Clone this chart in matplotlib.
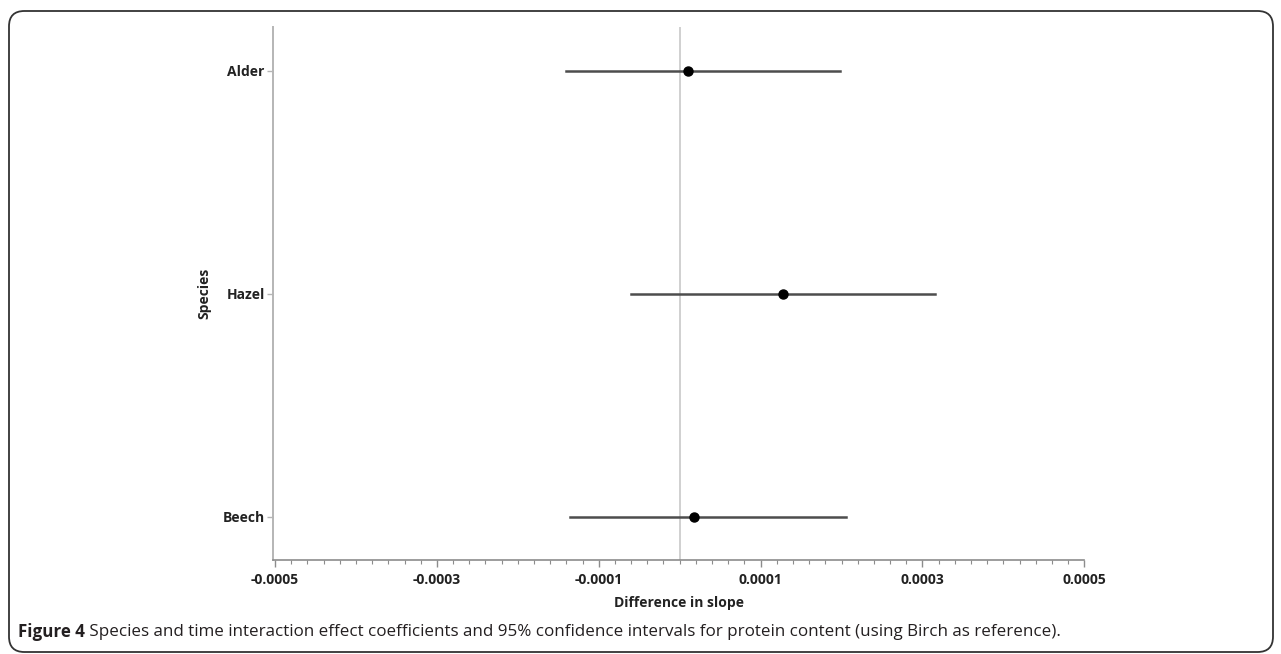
import matplotlib.pyplot as plt
from matplotlib.patches import FancyBboxPatch
from matplotlib.ticker import MultipleLocator, FixedLocator

species = ['Alder', 'Hazel', 'Beech']
estimate = [0.0000104, 0.0001278, 0.0000173]
ci_low = [-0.000141, -0.0000597, -0.000135]
ci_high = [0.0001986, 0.000316, 0.000206]
xticks = [-0.0005, -0.0003, -0.0001, 0.0001, 0.0003, 0.0005]
xtick_labels = ['-0.0005', '-0.0003', '-0.0001', '0.0001', '0.0003', '0.0005']

caption_bold = 'Figure 4'
caption_text = (' Species and time interaction effect coefficients and 95% confidence '
                'intervals for protein content (using Birch as reference).')

plt.rcParams['font.family'] = ['Open Sans', 'DejaVu Sans']

W, H = 1281, 654
fig = plt.figure(figsize=(W / 100, H / 100), dpi=100)

# rounded frame round the whole figure
frame = FancyBboxPatch((9 / W, 1 - 652 / H), (1273 - 9) / W, (652 - 11) / H,
                       boxstyle='round,pad=0,rounding_size=0.012',
                       transform=fig.transFigure, fill=False,
                       edgecolor='#333333', linewidth=1.3, mutation_aspect=W / H)
fig.patches.append(frame)

ax = fig.add_axes([273 / W, 1 - 560 / H, (1084.3 - 273) / W, (560 - 27) / H])

ypos = list(range(len(species)))
ax.axvline(0, color='#c8c8c8', linewidth=1.2, zorder=1)
for i in ypos:
    ax.plot([ci_low[i], ci_high[i]], [i, i], color='#4d4d4d', linewidth=1.8, zorder=2)
ax.plot(estimate, ypos, 'o', color='black', markersize=6.5, zorder=3)

ax.set_xlim(-0.0005025, 0.0005)
ax.set_ylim(2.193, -0.197)

ax.xaxis.set_major_locator(FixedLocator(xticks))
ax.set_xticklabels(xtick_labels)
ax.xaxis.set_minor_locator(MultipleLocator(0.00002))
ax.set_yticks(ypos)
ax.set_yticklabels(species)

for s in ['top', 'right']:
    ax.spines[s].set_visible(False)
ax.spines['left'].set_color('#b5b5b5')
ax.spines['bottom'].set_color('#8c8c8c')
ax.spines['left'].set_linewidth(1.4)
ax.spines['bottom'].set_linewidth(1.2)

ax.tick_params(axis='x', which='major', length=5, width=1, color='#8c8c8c',
               labelsize=10, pad=4)
ax.tick_params(axis='x', which='minor', length=3, width=0.8, color='#8c8c8c')
ax.tick_params(axis='y', length=4, width=1, color='#b5b5b5', labelsize=10, pad=2)
for lab in ax.get_xticklabels() + ax.get_yticklabels():
    lab.set_fontweight('bold')
    lab.set_color('#222222')

ax.set_xlabel('Difference in slope', fontsize=10, fontweight='bold',
              color='#222222', labelpad=7)
ax.set_ylabel('Species', fontsize=10, fontweight='bold', color='#222222',
              labelpad=8)

t1 = fig.text(18 / W, 1 - 632 / H, caption_bold, fontsize=12.25, fontweight='bold',
              color='#231f20', va='center', ha='left')
fig.canvas.draw()
bb = t1.get_window_extent()
fig.text(bb.x1 / W, 1 - 632 / H, caption_text, fontsize=12.25, color='#231f20',
         va='center', ha='left')

fig.savefig('out.png', dpi=100)
